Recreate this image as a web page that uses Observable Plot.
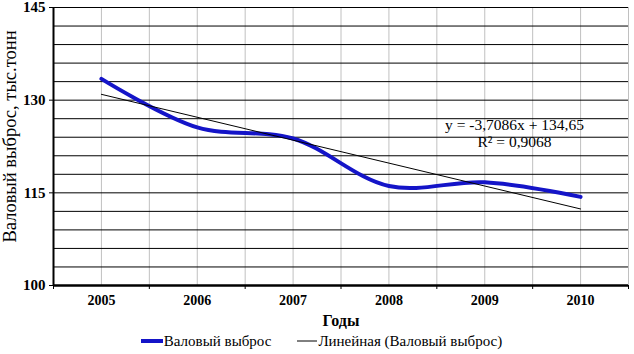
<!DOCTYPE html>
<html>
<head>
<meta charset="utf-8">
<script src="https://cdn.jsdelivr.net/npm/d3@7"></script>
<script src="https://cdn.jsdelivr.net/npm/@observablehq/plot@0.6"></script>
<style>
  html, body { margin: 0; padding: 0; background: #fff; }
  #wrap { width: 634px; height: 354px; position: relative; font-family: "Times New Roman", "Liberation Serif", Tinos, "Noto Serif", "DejaVu Serif", serif; }
  #chart svg, #chart svg text { font-family: "Times New Roman", "Liberation Serif", Tinos, "Noto Serif", "DejaVu Serif", serif !important; }
  #legend { display: flex; justify-content: center; align-items: center; gap: 26px; height: 22px; font-size: 15px; color: #000; padding-left: 9px; }
  .item { display: flex; align-items: center; }
  .item svg { display: block; margin-right: 1px; }
</style>
</head>
<body>
<div id="wrap"><div id="chart"></div><div id="legend"></div></div>
<script>
const years = ["2005", "2006", "2007", "2008", "2009", "2010"];
const emissions = [133.45, 125.6, 123.8, 116.1, 116.7, 114.35];
const yTicks = [100, 115, 130, 145];
const equationText = ["y = -3,7086x + 134,65", "R² = 0,9068"];
const seriesName = "Валовый выброс";
const trendName = "Линейная (Валовый выброс)";
const xTitle = "Годы";
const yTitle = "Валовый выброс, тыс.тонн";

const blue = "#1414c8";
const data = years.map((year, i) => ({ i: i + 1, year, value: emissions[i] }));
const centers = years.map((_, i) => i + 1);
const bounds = d3.range(0.5, years.length + 0.51, 1);
const halfGrid = d3.range(1, years.length + 0.51, 0.5);

const chart = Plot.plot({
  width: 634,
  height: 330,
  marginTop: 7,
  marginLeft: 53,
  marginRight: 6,
  marginBottom: 45,
  style: { background: "white", color: "black" },
  x: { type: "linear", domain: [0.5, years.length + 0.5] },
  y: { domain: [100, 145] },
  marks: [
    Plot.gridX(halfGrid, { stroke: "#c0c0c0", strokeOpacity: 1 }),
    Plot.gridY(d3.range(100, 145.1, 3), { stroke: "black", strokeOpacity: 1 }),
    Plot.axisY({ ticks: yTicks, tickSize: 4, tickPadding: 4, fontWeight: "bold", fontSize: 15, label: null }),
    Plot.axisX({ ticks: bounds, tickSize: 4, tickFormat: () => "", label: null }),
    Plot.axisX({ ticks: centers, tickSize: 0, tickPadding: 10, tickFormat: d => years[d - 1], fontWeight: "bold", fontSize: 14, label: null }),
    Plot.ruleX([0.5], { stroke: "black", strokeWidth: 2 }),
    Plot.ruleY([100], { stroke: "black", strokeWidth: 2.5 }),
    Plot.line(data, { x: "i", y: "value", curve: "catmull-rom", stroke: blue, strokeWidth: 4 }),
    Plot.linearRegressionY(data, { x: "i", y: "value", ci: 0, stroke: "black", strokeWidth: 1 }),
    Plot.text([equationText.join("\n")], { frameAnchor: "top-right", textAnchor: "middle", lineAnchor: "top", dx: -114, dy: 111, fontSize: 15.5, lineHeight: 1.07, fill: "black" }),
    Plot.text([xTitle], { frameAnchor: "bottom", lineAnchor: "middle", dy: 35, fontSize: 16, fontWeight: "bold", fill: "black" }),
    Plot.text([yTitle], { frameAnchor: "left", textAnchor: "middle", lineAnchor: "middle", rotate: -90, dx: -43, dy: -10, fontSize: 18.5, fill: "black" })
  ]
});
document.getElementById("chart").appendChild(chart);

const legend = document.getElementById("legend");
[[seriesName, blue, 4, 22], [trendName, "black", 1, 20]].forEach(([name, color, w, len]) => {
  const item = document.createElement("div");
  item.className = "item";
  item.innerHTML = `<svg width="${len}" height="10"><line x1="0" x2="${len}" y1="5" y2="5" stroke="${color}" stroke-width="${w}"/></svg><span>${name}</span>`;
  legend.appendChild(item);
});
</script>
</body>
</html>
